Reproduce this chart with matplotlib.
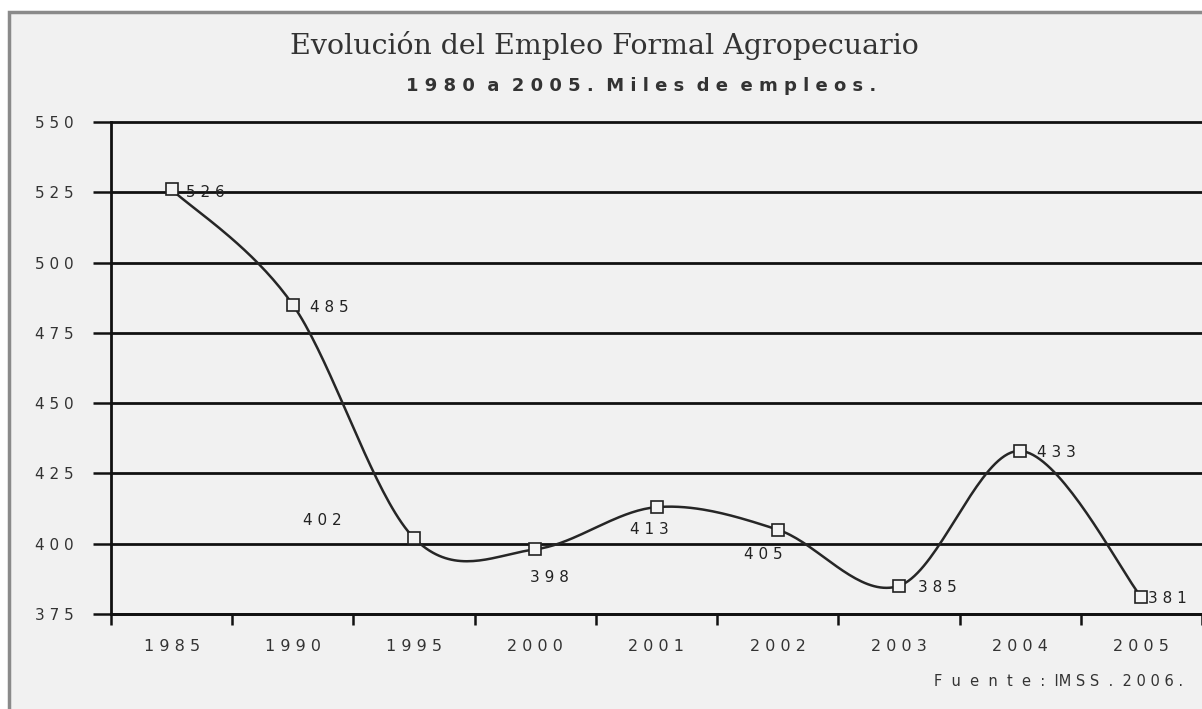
"""
Evolución del Empleo Formal Agropecuario, 1980-2005 (IMSS).
"""
import numpy as np
import matplotlib
matplotlib.use("Agg")
import matplotlib.pyplot as plt
from matplotlib.patches import Rectangle

# data
years = ["1985", "1990", "1995", "2000", "2001", "2002", "2003", "2004", "2005"]
empleos = [526, 485, 402, 398, 413, 405, 385, 433, 381]
y_ticks = [375, 400, 425, 450, 475, 500, 525, 550]

# label offsets in points (dx, dy) for each value label
label_offsets = [(10, -2), (12, -2), (-80, 13), (-4, -20), (-19, -16), (-24, -18), (14, -1), (12, -1), (5, -1)]


def spaced(s, gap=" "):
    return gap.join(s)


def smooth(xs, ys, n=40):
    """Catmull-Rom spline through the points (like Excel's smoothed line)."""
    px = np.concatenate([[xs[0]], xs, [xs[-1]]])
    py = np.concatenate([[ys[0]], ys, [ys[-1]]])
    out_x, out_y = [], []
    t = np.linspace(0, 1, n)
    for i in range(1, len(px) - 2):
        p0, p1, p2, p3 = [np.array([px[j], py[j]]) for j in range(i - 1, i + 3)]
        c1 = p1 + (p2 - p0) / 6.0
        c2 = p2 - (p3 - p1) / 6.0
        b = ((1 - t) ** 3)[:, None] * p1 + (3 * (1 - t) ** 2 * t)[:, None] * c1 \
            + (3 * (1 - t) * t ** 2)[:, None] * c2 + (t ** 3)[:, None] * p2
        out_x.extend(b[:, 0])
        out_y.extend(b[:, 1])
    return np.array(out_x), np.array(out_y)


bg = "#f1f1f1"
fig = plt.figure(figsize=(12.02, 7.09), dpi=100, facecolor="white")

# outer frame of the original chart
frame = Rectangle((9 / 1202, -0.05), 1.2, 1 - 12 / 709 + 0.05, transform=fig.transFigure,
                  facecolor=bg, edgecolor="#8a8a8a", linewidth=2.5, zorder=-5)
fig.patches.append(frame)

ax = fig.add_axes([111 / 1202, 1 - 614 / 709, 1 - 111 / 1202, (614 - 122) / 709])
ax.set_zorder(1)
ax.patch.set_alpha(0)

x = np.arange(len(years))
sx, sy = smooth(x.astype(float), np.array(empleos, dtype=float))
ax.plot(sx, sy, color="#262626", linewidth=1.8, zorder=3, clip_on=False)
ax.plot(x, empleos, linestyle="none", marker="s", markersize=9, markerfacecolor="#f4f4f4",
        markeredgecolor="#222222", markeredgewidth=1.2, zorder=4, clip_on=False)

for i, v in enumerate(empleos):
    dx, dy = label_offsets[i]
    ax.annotate(spaced(str(v)), (x[i], v), xytext=(dx, dy), textcoords="offset points",
                ha="left", va="center", fontsize=11, color="#222222", zorder=5)

ax.set_xlim(-0.5, len(years) - 0.5)
ax.set_ylim(375, 550)
ax.set_yticks(y_ticks)
ax.set_yticklabels([spaced(str(t)) for t in y_ticks], fontsize=11, color="#333333")
ax.yaxis.grid(True, color="#111111", linewidth=2)
for gl in ax.get_ygridlines():
    gl.set_clip_on(False)
ax.set_axisbelow(True)

ax.set_xticks(np.arange(len(years) + 1) - 0.5)
ax.set_xticklabels([])
ax.set_xticks(x, minor=True)
ax.set_xticklabels([spaced(y) for y in years], minor=True, fontsize=11.5, color="#333333")
ax.tick_params(axis="x", which="major", length=8, width=1.8, direction="out", color="#111111")
ax.tick_params(axis="x", which="minor", length=0, pad=18)
ax.tick_params(axis="y", length=13, width=1.8, color="#111111", pad=14)

for side in ["top", "right"]:
    ax.spines[side].set_visible(False)
ax.spines["left"].set_linewidth(2)
ax.spines["bottom"].set_linewidth(2)
ax.spines["left"].set_color("#111111")
ax.spines["bottom"].set_color("#111111")

fig.text(604 / 1202, 1 - 46 / 709, "Evolución del Empleo Formal Agropecuario", ha="center", va="center",
         fontsize=20.5, family="DejaVu Serif", color="#333333")
fig.text(641 / 1202, 1 - 86 / 709, "1 9 8 0  a  2 0 0 5 .  M i l e s  d e  e m p l e o s .", ha="center",
         va="center", fontsize=13, fontweight="bold", color="#333333")
fig.text(1183 / 1202, 1 - 681 / 709, "F  u  e  n  t  e  :  IM S S  .  2 0 0 6 .", ha="right", va="center",
         fontsize=10.5, color="#333333")

plt.savefig("out.png", dpi=100, facecolor=fig.get_facecolor())
plt.close()
